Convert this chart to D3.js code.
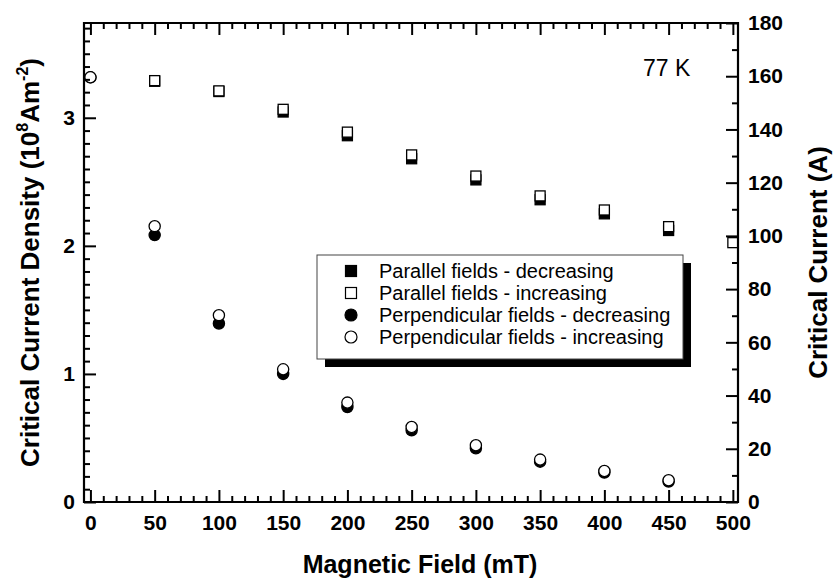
<!DOCTYPE html>
<html><head><meta charset="utf-8">
<script src="https://cdn.jsdelivr.net/npm/d3@7"></script>
<style>
html,body{margin:0;padding:0;background:#fff;}
svg{display:block;font-family:"Liberation Sans",Arial,sans-serif;}
</style></head>
<body><svg id="c" width="833" height="582"></svg>
<script>
// ---- data ----
const fieldsPar = [50,100,150,200,250,300,350,400,450,500];
const parIncreasing = [3.29,3.21,3.066,2.888,2.71,2.545,2.39,2.28,2.15,2.025];
const fieldsParDec = [50,100,150,200,250,300,350,400,450];
const parDecreasing = [3.285,3.205,3.045,2.86,2.68,2.515,2.36,2.25,2.12];
const fieldsPerp = [0,50,100,150,200,250,300,350,400,450];
const perpIncreasing = [3.316,2.154,1.459,1.036,0.776,0.586,0.443,0.331,0.242,0.17];
const perpDecreasing = [3.316,2.084,1.394,1.0,0.742,0.56,0.42,0.315,0.23,0.16];
const xTicks = [0,50,100,150,200,250,300,350,400,450,500];
const yLeftTicks = [0,1,2,3];
const yRightTicks = [0,20,40,60,80,100,120,140,160,180];
const legendLabels = ["Parallel fields - decreasing","Parallel fields - increasing","Perpendicular fields - decreasing","Perpendicular fields - increasing"];

const svg = d3.select("#c");
const L=84, R=738, T=23, B=502;
const x = d3.scaleLinear().domain([-5,504]).range([L,R]);
const yL = d3.scaleLinear().domain([0,3.74]).range([B,T]);
const yR = d3.scaleLinear().domain([0,180]).range([B,T]);

function styleAxis(g){
  g.select(".domain").remove();
  g.selectAll("text").attr("font-weight","bold").attr("font-size","21px").attr("fill","#000")
   .attr("font-family",'"Liberation Sans",Arial,sans-serif');
  g.selectAll("line").attr("stroke","#000").attr("stroke-width",2);
}
const xMinor = d3.range(0,505,10).filter(v=>v%50!==0);
const yLMinor = d3.range(1,38).map(v=>v/10).filter(v=>v%1!==0);
const yRMinor = d3.range(10,180,20);

// data
const SQ=10, CR=5.6;
function squares(xs, ys, filled){
  svg.append("g").selectAll("rect").data(xs.map((v,i)=>[v,ys[i]])).join("rect")
    .attr("x",d=>x(d[0])-SQ/2).attr("y",d=>yL(d[1])-SQ/2).attr("width",SQ).attr("height",SQ)
    .attr("fill",filled?"#000":"#fff").attr("stroke","#000").attr("stroke-width",1.3);
}
function circles(xs, ys, filled){
  svg.append("g").selectAll("circle").data(xs.map((v,i)=>[v,ys[i]])).join("circle")
    .attr("cx",d=>x(d[0])).attr("cy",d=>yL(d[1])).attr("r",CR)
    .attr("fill",filled?"#000":"#fff").attr("stroke","#000").attr("stroke-width",1.3);
}
squares(fieldsParDec, parDecreasing, true);
squares(fieldsPar, parIncreasing, false);
circles(fieldsPerp, perpDecreasing, true);
circles(fieldsPerp, perpIncreasing, false);

// legend
const lx=317, ly=255, lw=366, lh=104, sh=8;
svg.append("rect").attr("x",lx+sh).attr("y",ly+sh).attr("width",lw).attr("height",lh).attr("fill","#000");
svg.append("rect").attr("x",lx).attr("y",ly).attr("width",lw).attr("height",lh).attr("fill","#fff")
  .attr("stroke","#444").attr("stroke-width",1);
const rowY = i => ly+16+i*22;
legendLabels.forEach((t,i)=>{
  const cy=rowY(i), cx=351;
  if(i<2){
    svg.append("rect").attr("x",cx-5.5).attr("y",cy-5.5).attr("width",11).attr("height",11)
      .attr("fill",i===0?"#000":"#fff").attr("stroke","#000").attr("stroke-width",1.2);
  } else {
    svg.append("circle").attr("cx",cx).attr("cy",cy).attr("r",6)
      .attr("fill",i===2?"#000":"#fff").attr("stroke","#000").attr("stroke-width",1.2);
  }
  svg.append("text").attr("x",379).attr("y",cy+7).attr("font-size","20px").attr("fill","#000").text(t);
});

// annotation
svg.append("text").attr("x",643).attr("y",76).attr("font-size","23px").attr("fill","#000").text("77 K");

// titles
svg.append("text").attr("x",420).attr("y",573).attr("text-anchor","middle")
  .attr("font-weight","bold").attr("font-size","25px").text("Magnetic Field (mT)");
const lt = svg.append("text").attr("transform",`translate(39,${(T+B)/2}) rotate(-90)`)
  .attr("text-anchor","middle").attr("font-weight","bold").attr("font-size","26px");
lt.append("tspan").text("Critical Current Density (10");
lt.append("tspan").attr("font-size","16px").attr("dy",-11).text("8");
lt.append("tspan").attr("dy",11).text("Am");
lt.append("tspan").attr("font-size","16px").attr("dy",-11).text("-2");
lt.append("tspan").attr("dy",11).text(")");
svg.append("text").attr("transform",`translate(827,${(T+B)/2}) rotate(-90)`)
  .attr("text-anchor","middle").attr("font-weight","bold").attr("font-size","26px").text("Critical Current (A)");

// tick labels
svg.append("g").attr("transform",`translate(0,${B})`)
  .call(d3.axisBottom(x).tickValues(xTicks).tickSize(0).tickPadding(13).tickFormat(d3.format("d")))
  .call(styleAxis);
svg.append("g").attr("transform",`translate(${L},0)`)
  .call(d3.axisLeft(yL).tickValues(yLeftTicks).tickSize(0).tickPadding(9).tickFormat(d3.format("d")))
  .call(styleAxis);
svg.append("g").attr("transform",`translate(${R},0)`)
  .call(d3.axisRight(yR).tickValues(yRightTicks).tickSize(0).tickPadding(10).tickFormat(d3.format("d")))
  .call(styleAxis);

// inward tick marks, drawn last
function tickOnly(axis, tr){
  svg.append("g").attr("transform",tr).call(axis.tickFormat("").tickSizeOuter(0)).call(styleAxis);
}
tickOnly(d3.axisTop(x).tickValues(xTicks).tickSizeInner(12), `translate(0,${B})`);
tickOnly(d3.axisTop(x).tickValues(xMinor).tickSizeInner(6), `translate(0,${B})`);
tickOnly(d3.axisBottom(x).tickValues(xTicks).tickSizeInner(12), `translate(0,${T})`);
tickOnly(d3.axisBottom(x).tickValues(xMinor).tickSizeInner(6), `translate(0,${T})`);
tickOnly(d3.axisRight(yL).tickValues(yLeftTicks).tickSizeInner(12), `translate(${L},0)`);
tickOnly(d3.axisRight(yL).tickValues(yLMinor).tickSizeInner(6), `translate(${L},0)`);
tickOnly(d3.axisLeft(yR).tickValues(yRightTicks).tickSizeInner(12), `translate(${R},0)`);
tickOnly(d3.axisLeft(yR).tickValues(yRMinor).tickSizeInner(6), `translate(${R},0)`);

// frame
svg.append("path")
  .attr("d",`M${L},${T}H${R}V${B}H${L}Z`)
  .style("fill","none").attr("stroke","#000").attr("stroke-width",2.2);
</script></body></html>
